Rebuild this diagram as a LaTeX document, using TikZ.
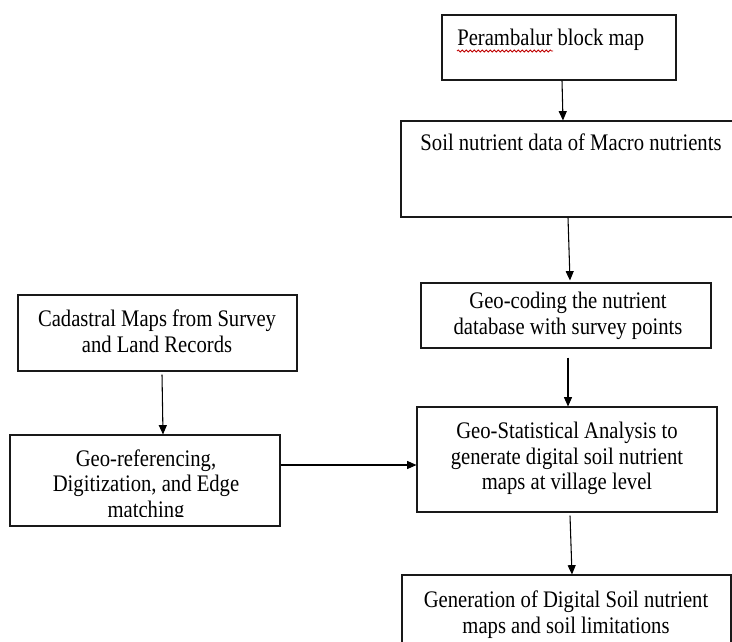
\documentclass[tikz,border=0pt]{standalone}
\usepackage{fontspec}
\setmainfont{Liberation Serif}[FakeStretch=0.87]
\usetikzlibrary{fit,calc,arrows.meta,decorations.pathmorphing}
\definecolor{squig}{HTML}{C00000}
\tikzset{
  box/.style={draw=black!90, line width=0.8pt, inner sep=0pt},
  lbl/.style={inner sep=0pt, align=center, font=\fontsize{17.8}{19.3}\selectfont},
  arr/.style={draw=black, line width=0.8pt, -{Triangle[length=7pt,width=6pt]}}
}
\begin{document}
\begin{tikzpicture}[x=0.75pt,y=-0.75pt]
\clip (0,0) rectangle (732,642);
\fill[white] (0,0) rectangle (732,642);
% boxes
\node[box, fit={(442,15)(676,80)}] (b0) {};
\node[box, fit={(401,121)(745,217)}] (b1) {};
\node[box, fit={(421,283)(711,348)}] (b2) {};
\node[box, fit={(417,407)(717,512)}] (b3) {};
\node[box, fit={(402,575)(731,665)}] (b4) {};
\node[box, fit={(18,295)(297,371)}] (a1) {};
\node[box, fit={(10,435)(280,526)}] (a2) {};
% texts
\node[lbl, anchor=west] (t0) at (457,40) {Perambalur block map};
\draw[squig, line width=0.6pt, decorate, decoration={snake, segment length=3pt, amplitude=0.8pt}] (457,51) -- (553,51);
\node[lbl] (t1) at (571,142) {Soil nutrient data of Macro nutrients};
\node[lbl] (t2) at (568,316) {Geo-coding the nutrient\\database with survey points};
\node[lbl] (t3) at (567,458.5) {Geo-Statistical Analysis to\\generate digital soil nutrient\\maps at village level};
\node[lbl] (t4) at (566,614.5) {Generation of Digital Soil nutrient\\maps and soil limitations};
\node[lbl] (s1) at (157,331.5) {Cadastral Maps from Survey\\and Land Records};
\begin{scope}
\clip (10,435) rectangle (280,516);
\node[lbl] (s2) at (146,486) {Geo-referencing,\\Digitization, and Edge\\matching};
\end{scope}
% connectors
\draw[arr] (b0.south -| 562,0) -- (b1.north -| 563,0);
\draw[arr] (b1.south -| 568,0) -- ($(b2.north -| 570,0)+(0,-2)$);
\draw[arr] ($(b2.south -| 568,0)+(0,9)$) -- (b3.north -| 568,0);
\draw[arr] ($(b3.south -| 570,0)+(0,3)$) -- (b4.north -| 572,0);
\draw[arr] ($(a1.south -| 162,0)+(0,3)$) -- (a2.north -| 163,0);
\draw[arr] (a2.east |- 0,465) -- (b3.west |- 0,465);
\end{tikzpicture}
\end{document}
